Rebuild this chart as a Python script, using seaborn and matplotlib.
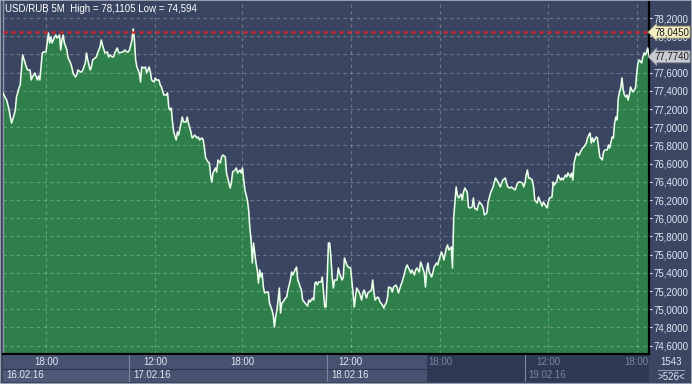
import matplotlib
matplotlib.use("Agg")
import matplotlib.pyplot as plt
import seaborn as sns
import pandas as pd
from matplotlib.patches import Rectangle
from matplotlib.lines import Line2D

# ---------------- data (5-minute bars, USD/RUB) ----------------
bars = [0, 2, 3, 5, 6, 7, 9, 10, 11, 13, 14, 15, 16, 18, 19, 20, 22, 23, 24, 26, 28, 29, 30, 31, 32, 33, 35,
        37, 38, 39, 40, 42, 43, 44, 46, 47, 48, 49, 50, 52, 53, 55, 56, 57, 59, 60, 61, 63, 64, 65, 67, 68, 69,
        71, 72, 73, 75, 76, 77, 79, 80, 81, 83, 85, 86, 87, 89, 90, 91, 93, 94, 95, 97, 98, 99, 101, 102, 103,
        105, 106, 107, 108, 109, 111, 112, 113, 115, 116, 117, 119, 120, 121, 123, 124, 125, 127, 128, 129,
        131, 133, 134, 135, 136, 137, 138, 139, 141, 142, 143, 145, 146, 147, 149, 150, 151, 153, 154, 155,
        156, 158, 159, 160, 162, 163, 164, 165, 167, 168, 169, 170, 171, 173, 174, 175, 177, 178, 179, 181,
        182, 184, 185, 186, 187, 189, 190, 191, 193, 194, 195, 196, 197, 199, 200, 201, 202, 203, 204, 206,
        207, 208, 209, 210, 211, 212, 213, 215, 216, 217, 219, 220, 221, 222, 223, 224, 225, 226, 227, 228,
        230, 231, 232, 234, 235, 236, 237, 239, 240, 241, 242, 243, 244, 246, 248, 249, 250, 252, 253, 254,
        255, 256, 257, 259, 260, 261, 262, 263, 264, 265, 266, 267, 268, 269, 270, 272, 273, 274, 276, 277,
        278, 280, 281, 283, 284, 285, 286, 287, 288, 290, 292, 293, 294, 296, 297, 298, 300, 301, 302, 303,
        305, 306, 307, 309, 310, 311, 312, 313, 314, 316, 317, 318, 320, 321, 322, 324, 325, 327, 328, 329,
        331, 332, 333, 335, 336, 337, 339, 340, 341, 343, 344, 345, 346, 347, 349, 350, 351, 353, 354, 355,
        357, 358, 359, 361, 362, 363, 365, 366, 367, 369, 370, 371, 373, 374, 375, 376, 378, 379, 380, 382,
        383, 384, 386, 387, 388, 390, 391, 392, 394, 395, 397, 398, 399, 401, 402, 403, 405, 406, 407, 409,
        410, 411, 413, 414, 415, 417, 419, 420, 421, 423, 424, 425, 426, 427, 428, 429, 431, 432, 433, 435,
        436, 437, 439, 440, 441, 443, 444, 445, 447, 448, 449, 451, 452, 454, 455, 456, 458, 459, 460, 462,
        463, 464, 465, 467, 468, 469, 471, 472, 473, 475, 476, 477, 478, 479, 480, 481, 483, 484, 485, 486,
        488, 489, 490, 492, 493, 494, 496, 497, 498, 499, 500, 501, 502, 503, 504, 505, 506, 507, 508, 509,
        510, 511, 512, 513, 515, 516, 517, 518, 520, 521, 522, 523, 524, 525, 526]

price = [77.376, 77.321, 77.299, 77.189, 77.112, 77.046, 77.134, 77.189, 77.332, 77.431, 77.464, 77.629,
         77.794, 77.706, 77.662, 77.629, 77.629, 77.519, 77.552, 77.596, 77.519, 77.563, 77.519, 77.662,
         77.816, 77.827, 77.827, 78.035, 77.926, 77.991, 77.926, 77.991, 78.013, 77.980, 78.013, 77.849,
         77.958, 78.013, 77.926, 77.849, 77.761, 77.706, 77.662, 77.596, 77.552, 77.574, 77.629, 77.607,
         77.607, 77.629, 77.706, 77.816, 77.739, 77.629, 77.662, 77.739, 77.761, 77.772, 77.816, 77.882,
         77.958, 77.904, 77.816, 77.827, 77.772, 77.794, 77.772, 77.772, 77.816, 77.871, 77.827, 77.816,
         77.827, 77.827, 77.849, 77.827, 77.827, 77.849, 77.958, 78.080, 77.958, 77.739, 77.662, 77.596,
         77.497, 77.662, 77.651, 77.662, 77.596, 77.662, 77.607, 77.519, 77.497, 77.541, 77.519, 77.519,
         77.464, 77.442, 77.354, 77.354, 77.376, 77.211, 77.189, 77.211, 77.057, 76.948, 76.860, 76.948,
         76.915, 77.046, 77.112, 77.057, 77.057, 77.112, 77.046, 76.948, 76.882, 76.893, 76.915, 76.882,
         76.893, 76.860, 76.882, 76.860, 76.772, 76.662, 76.618, 76.607, 76.475, 76.398, 76.497, 76.552,
         76.508, 76.640, 76.607, 76.673, 76.695, 76.673, 76.497, 76.387, 76.332, 76.398, 76.508, 76.530,
         76.552, 76.497, 76.530, 76.497, 76.552, 76.420, 76.310, 76.200, 76.090, 75.893, 75.761, 75.508,
         75.728, 75.508, 75.431, 75.288, 75.431, 75.354, 75.398, 75.244, 75.178, 75.189, 75.189, 75.068,
         74.991, 74.937, 74.805, 74.915, 74.991, 75.101, 75.233, 74.958, 75.068, 75.079, 75.123, 75.134,
         75.211, 75.321, 75.409, 75.376, 75.409, 75.464, 75.321, 75.288, 75.244, 75.211, 75.101, 75.068,
         75.035, 75.101, 75.079, 75.123, 75.101, 75.288, 75.299, 75.266, 75.299, 75.299, 75.354, 75.178,
         75.024, 75.024, 75.354, 75.728, 75.728, 75.574, 75.354, 75.233, 75.321, 75.321, 75.453, 75.398,
         75.321, 75.343, 75.563, 75.486, 75.464, 75.453, 75.321, 75.178, 75.024, 75.134, 75.233, 75.189,
         75.101, 75.178, 75.211, 75.123, 75.178, 75.189, 75.211, 75.321, 75.189, 75.101, 75.134, 75.123,
         75.079, 75.046, 75.013, 75.046, 75.068, 75.123, 75.244, 75.233, 75.189, 75.244, 75.266, 75.233,
         75.178, 75.266, 75.299, 75.398, 75.453, 75.486, 75.431, 75.398, 75.431, 75.376, 75.431, 75.453,
         75.409, 75.519, 75.486, 75.398, 75.244, 75.431, 75.508, 75.409, 75.354, 75.398, 75.464, 75.508,
         75.486, 75.541, 75.629, 75.596, 75.541, 75.673, 75.706, 75.651, 75.684, 75.453, 76.013, 76.343,
         76.255, 76.222, 76.266, 76.200, 76.288, 76.332, 76.288, 76.123, 76.112, 76.123, 76.222, 76.112,
         76.090, 76.145, 76.178, 76.145, 76.112, 76.035, 76.057, 76.178, 76.277, 76.310, 76.343, 76.442,
         76.420, 76.398, 76.343, 76.387, 76.420, 76.442, 76.387, 76.343, 76.332, 76.343, 76.332, 76.310,
         76.387, 76.398, 76.398, 76.387, 76.343, 76.387, 76.475, 76.530, 76.442, 76.442, 76.420, 76.343,
         76.200, 76.167, 76.233, 76.200, 76.134, 76.178, 76.156, 76.112, 76.178, 76.222, 76.233, 76.398,
         76.365, 76.409, 76.475, 76.420, 76.442, 76.420, 76.475, 76.453, 76.497, 76.453, 76.497, 76.420,
         76.607, 76.717, 76.695, 76.695, 76.750, 76.772, 76.783, 76.827, 76.882, 76.915, 76.937, 76.827,
         76.882, 76.838, 76.893, 76.882, 76.772, 76.673, 76.640, 76.728, 76.750, 76.750, 76.805, 76.772,
         76.893, 76.882, 77.046, 77.112, 77.079, 77.321, 77.387, 77.431, 77.541, 77.409, 77.354, 77.332,
         77.354, 77.299, 77.354, 77.442, 77.409, 77.387, 77.431, 77.596, 77.706, 77.739, 77.706, 77.772,
         77.816, 77.794, 77.827, 77.871, 77.774]

xtick_bars = [35, 124, 195, 283, 356, 444, 516]
xtick_labels = ["18:00", "12:00", "18:00", "12:00", "18:00", "12:00", "18:00"]
day_start_bars = [0, 103, 264, 425]
day_labels = ["16.02.16", "17.02.16", "18.02.16", "19.02.16"]
ytick_values = [74.6, 74.8, 75.0, 75.2, 75.4, 75.6, 75.8, 76.0, 76.2, 76.4, 76.6, 76.8,
                77.0, 77.2, 77.4, 77.6, 77.8, 78.0, 78.2]
high_level = 78.045
last_price = 77.774
title_text = "USD/RUB 5M  High = 78,1105 Low = 74,594"
corner_top = "1543"
corner_bottom = ">526<"
dim_from_bar = 345

df = pd.DataFrame({"bar": bars, "price": price})

# ---------------- styling ----------------
W, H = 692, 384
BG = "#3b4663"
PLOT_BG = "#3a4562"
GREEN = "#2f7f4b"
LINE = "#eaffea"
TXT = "#dfe7f2"
DIM = "#7a869e"
FONT = ["Liberation Sans", "DejaVu Sans"]

plt.rcParams["font.family"] = FONT
fig = plt.figure(figsize=(W / 100, H / 100), dpi=100)
fig.patch.set_facecolor(BG)

ax = fig.add_axes([3 / W, 1 - 354 / H, 646 / W, 354 / H])
ax.set_facecolor(PLOT_BG)
ymin, ymax = 74.508, 78.398
ax.set_xlim(0, 526)
ax.set_ylim(ymin, ymax)

ax.fill_between(df["bar"], df["price"], ymin, color=GREEN, lw=0, zorder=1)
sns.lineplot(data=df, x="bar", y="price", ax=ax, color=LINE, linewidth=1.15, zorder=3)

ax.set_xticks(xtick_bars)
ax.set_yticks(ytick_values)
ax.set_axisbelow("line")
ax.grid(True, color="white", alpha=0.26, linewidth=0.8, linestyle=(0, (3, 3)))
ax.axhline(high_level, color="#d42626", linewidth=1.8, linestyle=(0, (1.6, 1.6)), zorder=4)

ax.set_xlabel("")
ax.set_ylabel("")
ax.tick_params(axis="x", labelbottom=False, length=0)
ax.yaxis.tick_right()
ax.set_yticklabels([f"{v:.4f}".replace(".", ",") for v in ytick_values])
ax.tick_params(axis="y", colors=TXT, labelsize=7, length=2, pad=1.5, width=0.8)
ax.spines["top"].set_visible(False)
ax.spines["left"].set_color("#8e97aa")
ax.spines["left"].set_linewidth(1)
ax.spines["right"].set_color("black")
ax.spines["right"].set_linewidth(1.6)
ax.spines["bottom"].set_color("black")
ax.spines["bottom"].set_linewidth(1.6)

ax.text(0.003, 0.988, title_text, transform=ax.transAxes, color="white",
        fontsize=7, va="top", ha="left", zorder=6)

ytr = ax.get_yaxis_transform()
ax.text(1.008, high_level, f"{high_level:.4f}".replace(".", ","), transform=ytr, color="#1a1a1a",
        fontsize=7, va="center", ha="left", zorder=7, clip_on=False,
        bbox=dict(boxstyle="larrow,pad=0.1", fc="#f3efc4", ec="#9a9670", lw=0.6))
ax.text(1.008, last_price, f"{last_price:.4f}".replace(".", ","), transform=ytr, color="#1a1a1a",
        fontsize=7, va="center", ha="left", zorder=7, clip_on=False,
        bbox=dict(boxstyle="larrow,pad=0.1", fc="#c9ccd2", ec="#8a8e96", lw=0.6))

# ---------------- bottom time axis panel ----------------
bax = fig.add_axes([3 / W, 2 / H, 646 / W, 27 / H])
bax.set_xlim(0, 526)
bax.set_ylim(0, 2)
bax.axis("off")
bax.add_patch(Rectangle((0, 0), dim_from_bar, 2, color="#46526f", lw=0))
bax.add_patch(Rectangle((dim_from_bar, 0), 526 - dim_from_bar, 2, color="#2e3a55", lw=0))
bax.add_patch(Rectangle((0, 0), day_start_bars[1], 1, color="#4e5a77", lw=0))
bax.axhline(1, color="#2a3550", lw=0.8)
for b in day_start_bars[1:]:
    bax.axvline(b, color="#7c879c", lw=0.8)
for b, lab in zip(xtick_bars, xtick_labels):
    c = TXT if b < dim_from_bar else DIM
    bax.text(b, 1.5, lab, ha="center", va="center", fontsize=7, color=c)
for b, lab in zip(day_start_bars, day_labels):
    c = TXT if b < dim_from_bar else DIM
    bax.text(b + 3, 0.5, lab, ha="left", va="center", fontsize=7, color=c)

# corner counter
fig.text(671 / W, 1 - 362 / H, corner_top, ha="center", va="center", fontsize=7, color=TXT)
fig.text(671 / W, 1 - 377 / H, corner_bottom, ha="center", va="center", fontsize=7, color=TXT)
fig.add_artist(Line2D([658 / W, 684 / W], [1 - 370 / H, 1 - 370 / H], color="#9aa4b6", lw=0.7))

# outer frame
fig.add_artist(Rectangle((0, 0), 1, 1, transform=fig.transFigure, fill=False,
                         ec="#a8b0bd", lw=1.2))

fig.savefig("out.png", dpi=100, facecolor=fig.get_facecolor())
